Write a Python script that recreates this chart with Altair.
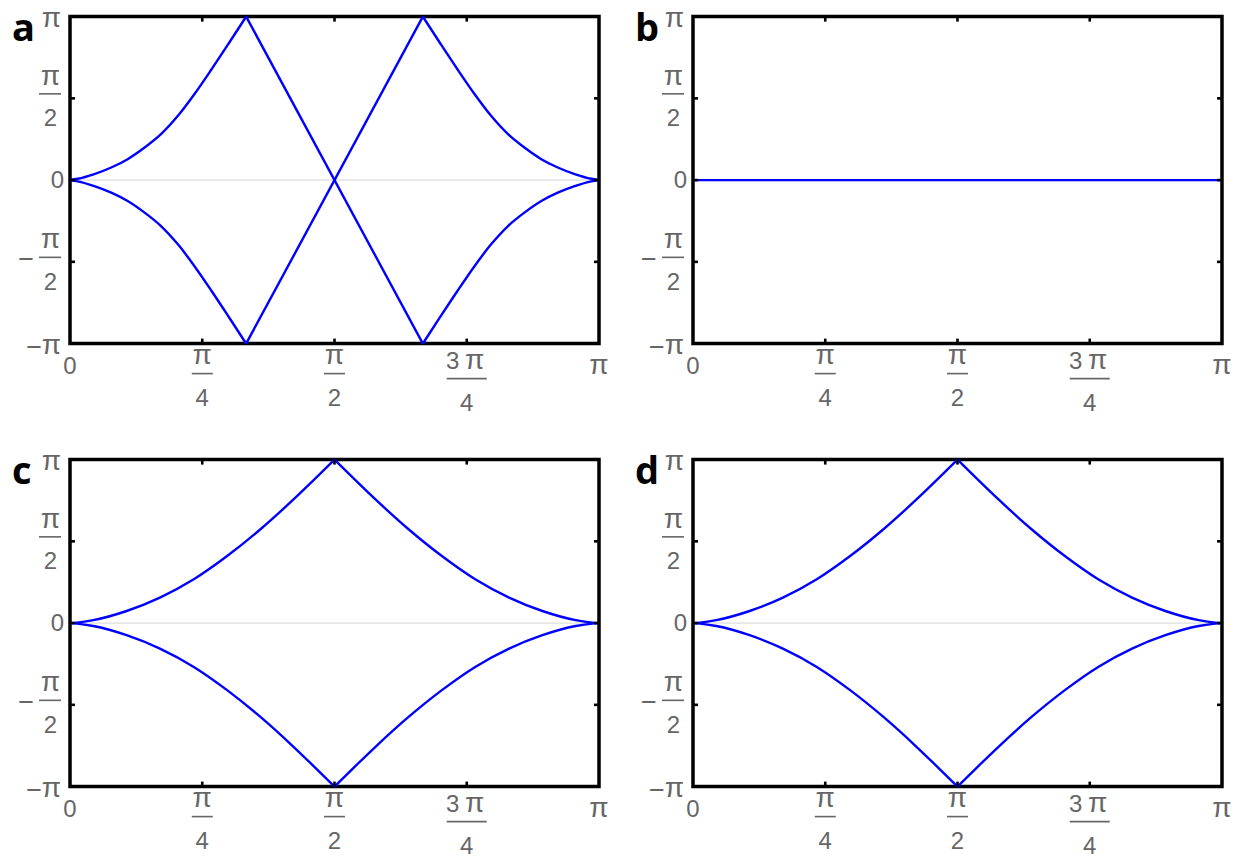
import altair as alt
import pandas as pd

# ---------------- data (x and y in units of pi) ----------------
# Panel a
a_rise_x = [0, 0.0145, 0.046, 0.078, 0.109, 0.141, 0.172, 0.204, 0.235, 0.267, 0.299, 0.333]
a_rise_up_y = [0, 0.008, 0.037, 0.077, 0.128, 0.199, 0.281, 0.393, 0.525, 0.675, 0.831, 1.0]
a_rise_dn_y = [0, -0.008, -0.037, -0.077, -0.128, -0.199, -0.281, -0.393, -0.525, -0.675, -0.831, -1.0]
a_fall_x = [0.667, 0.701, 0.733, 0.765, 0.796, 0.828, 0.859, 0.891, 0.922, 0.954, 0.9855, 1.0]
a_fall_up_y = [1.0, 0.831, 0.675, 0.525, 0.393, 0.281, 0.199, 0.128, 0.077, 0.037, 0.008, 0]
a_fall_dn_y = [-1.0, -0.831, -0.675, -0.525, -0.393, -0.281, -0.199, -0.128, -0.077, -0.037, -0.008, 0]
a_cross_x = [0.333, 0.667]
a_cross1_y = [1.0, -1.0]
a_cross2_y = [-1.0, 1.0]

# Panel b
b_x = [0, 1.0]
b_y = [0, 0]

# Panels c and d
c_rise_x = [0, 0.013, 0.044, 0.107, 0.170, 0.234, 0.297, 0.360, 0.423, 0.461, 0.5]
c_rise_up_y = [0, 0.003, 0.018, 0.074, 0.156, 0.268, 0.41, 0.574, 0.758, 0.876, 1.0]
c_rise_dn_y = [0, -0.003, -0.018, -0.074, -0.156, -0.268, -0.41, -0.574, -0.758, -0.876, -1.0]
c_fall_x = [0.5, 0.539, 0.577, 0.640, 0.703, 0.766, 0.830, 0.893, 0.956, 0.987, 1.0]
c_fall_up_y = [1.0, 0.876, 0.758, 0.574, 0.41, 0.268, 0.156, 0.074, 0.018, 0.003, 0]
c_fall_dn_y = [-1.0, -0.876, -0.758, -0.574, -0.41, -0.268, -0.156, -0.074, -0.018, -0.003, 0]

panel_letters = ["a", "b", "c", "d"]

# tick values / labels
x_tick_vals = [0.25, 0.5, 0.75]
y_tick_vals = [-0.5, 0, 0.5]
x_zero_vals = [0]
x_zero_text = ["0"]
x_pi_vals = [1]
x_pi_text = ["π"]
x_frac_vals = [0.25, 0.5]
x_frac_num = ["π", "π"]
x_frac_den = ["4", "2"]
x_frac3_vals = [0.75]
x_frac3_coef = ["3"]
x_frac3_num = ["π"]
x_frac3_den = ["4"]
y_pi_vals = [1, -1]
y_pi_text = ["π", "π"]
y_neg_vals = [-1]
y_zero_vals = [0]
y_zero_text = ["0"]
y_frac_vals = [0.5, -0.5]
y_frac_num = ["π", "π"]
y_frac_den = ["2", "2"]
y_minus_vals = [-0.5]

# ---------------- layout / style ----------------
W, H = 529, 327
LABEL_FONT = "Liberation Sans"
LABEL_SIZE = 24
PI_SIZE = 28
LABEL_COLOR = "#666666"
BLUE = "#0000ff"

xs = alt.Scale(domain=[0, 1], nice=False, zero=False)
ys = alt.Scale(domain=[-1, 1], nice=False, zero=False)


def lines_table(curves):
    rows = []
    for sid, (cx, cy) in enumerate(curves):
        for k, (x, y) in enumerate(zip(cx, cy)):
            rows.append({"s": sid, "k": k, "x": x, "y": y})
    return pd.DataFrame(rows)


def txt(df, xenc, yenc, text_field, **mk):
    props = dict(font=LABEL_FONT, fontSize=LABEL_SIZE, color=LABEL_COLOR,
                 baseline="alphabetic", align="center")
    props.update(mk)
    return alt.Chart(df).mark_text(**props).encode(x=xenc, y=yenc, text=f"{text_field}:N")


def panel(curves, letter):
    lines = lines_table(curves)
    X = alt.X("x:Q", scale=xs, axis=None)
    Y = alt.Y("y:Q", scale=ys, axis=None)

    zero = alt.Chart(pd.DataFrame({"y": [0]})).mark_rule(
        color="#d4d4d4", strokeWidth=1
    ).encode(x=alt.value(0), x2=alt.value(W), y=Y)

    curve = alt.Chart(lines).mark_line(
        color=BLUE, strokeWidth=2.4, interpolate="monotone"
    ).encode(x=X, y=Y, detail="s:N", order="k:Q")

    xt = pd.DataFrame({"v": x_tick_vals})
    yt = pd.DataFrame({"v": y_tick_vals})
    XV = alt.X("v:Q", scale=xs, axis=None)
    YV = alt.Y("v:Q", scale=ys, axis=None)
    XV2 = alt.X2("v")
    YV2 = alt.Y2("v")
    tick_style = dict(color="black", strokeWidth=2.6)
    t_bottom = alt.Chart(xt).mark_rule(**tick_style).encode(x=XV, y=alt.value(H), y2=alt.value(H - 5))
    t_top = alt.Chart(xt).mark_rule(**tick_style).encode(x=XV, y=alt.value(0), y2=alt.value(5))
    t_left = alt.Chart(yt).mark_rule(**tick_style).encode(y=YV, x=alt.value(0), x2=alt.value(5))
    t_right = alt.Chart(yt).mark_rule(**tick_style).encode(y=YV, x=alt.value(W), x2=alt.value(W - 5))

    bar_style = dict(color=LABEL_COLOR, strokeWidth=1.6)

    # x labels
    xz = pd.DataFrame({"v": x_zero_vals, "t": x_zero_text})
    xp = pd.DataFrame({"v": x_pi_vals, "t": x_pi_text})
    xf = pd.DataFrame({"v": x_frac_vals, "num": x_frac_num, "den": x_frac_den})
    xf3 = pd.DataFrame({"v": x_frac3_vals, "c": x_frac3_coef, "num": x_frac3_num, "den": x_frac3_den})
    lx = [
        txt(xz, XV, alt.value(H + 30), "t"),
        txt(xp, XV, alt.value(H + 30), "t", fontSize=PI_SIZE),
        txt(xf, XV, alt.value(H + 20), "num", fontSize=PI_SIZE),
        alt.Chart(xf).mark_rule(xOffset=-10.5, x2Offset=10.5, **bar_style).encode(
            x=XV, x2=XV2, y=alt.value(H + 30)),
        txt(xf, XV, alt.value(H + 62), "den"),
        txt(xf3, XV, alt.value(H + 25), "c", dx=-14),
        txt(xf3, XV, alt.value(H + 25), "num", fontSize=PI_SIZE, dx=8),
        alt.Chart(xf3).mark_rule(xOffset=-20, x2Offset=20, **bar_style).encode(
            x=XV, x2=XV2, y=alt.value(H + 35)),
        txt(xf3, XV, alt.value(H + 67), "den"),
    ]

    # y labels
    yp = pd.DataFrame({"v": y_pi_vals, "t": y_pi_text})
    yn = pd.DataFrame({"v": y_neg_vals, "t": ["−"] * len(y_neg_vals)})
    yz = pd.DataFrame({"v": y_zero_vals, "t": y_zero_text})
    yf = pd.DataFrame({"v": y_frac_vals, "num": y_frac_num, "den": y_frac_den})
    ym = pd.DataFrame({"v": y_minus_vals, "t": ["−"] * len(y_minus_vals)})
    ly = [
        txt(yp, alt.value(-9), YV, "t", align="right", dy=10, fontSize=PI_SIZE),
        txt(yn, alt.value(-36), YV, "t", baseline="middle", dy=4, fontSize=27),
        txt(yz, alt.value(-6), YV, "t", align="right", dy=8),
        txt(yf, alt.value(-19.5), YV, "num", dy=-13.5, fontSize=PI_SIZE),
        alt.Chart(yf).mark_rule(yOffset=-4.5, y2Offset=-4.5, **bar_style).encode(
            y=YV, y2=YV2, x=alt.value(-31), x2=alt.value(-9)),
        txt(yf, alt.value(-19.5), YV, "den", dy=28),
        txt(ym, alt.value(-44), YV, "t", baseline="middle", dy=-2, fontSize=27),
    ]

    lab = alt.Chart(pd.DataFrame({"t": [letter]})).mark_text(
        font="Open Sans", fontWeight="bold", fontSize=38, color="black",
        align="left", baseline="alphabetic"
    ).encode(x=alt.value(-58), y=alt.value(24), text="t:N")

    return alt.layer(zero, curve, t_bottom, t_top, t_left, t_right, *lx, *ly, lab).properties(
        width=W, height=H
    )


curves_a = [
    (a_rise_x, a_rise_up_y), (a_rise_x, a_rise_dn_y),
    (a_fall_x, a_fall_up_y), (a_fall_x, a_fall_dn_y),
    (a_cross_x, a_cross1_y), (a_cross_x, a_cross2_y),
]
curves_b = [(b_x, b_y)]
curves_c = [
    (c_rise_x, c_rise_up_y), (c_rise_x, c_rise_dn_y),
    (c_fall_x, c_fall_up_y), (c_fall_x, c_fall_dn_y),
]
curves_d = curves_c

pa = panel(curves_a, panel_letters[0])
pb = panel(curves_b, panel_letters[1])
pc = panel(curves_c, panel_letters[2])
pd_ = panel(curves_d, panel_letters[3])

chart = alt.concat(
    pa, pb, pc, pd_, columns=2, spacing={"row": 116, "column": 94}, bounds="flush"
).configure_view(
    stroke="black", strokeWidth=3.5
).properties(
    padding={"left": 10, "top": 2.6, "right": 4, "bottom": 0},
    background="white",
)

chart.save("out.html", embed_options={"renderer": "svg", "actions": False})
